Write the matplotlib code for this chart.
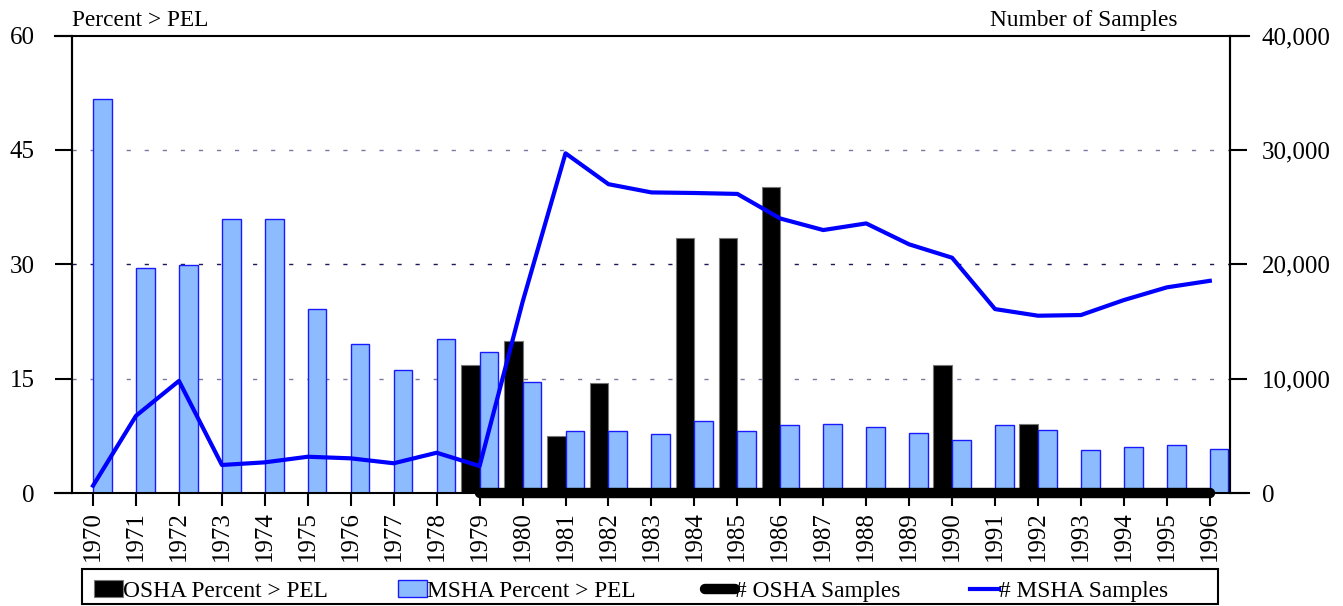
import matplotlib.pyplot as plt
import numpy as np
from matplotlib.ticker import FuncFormatter
from matplotlib.patches import Rectangle

plt.rcParams["font.family"] = ["Liberation Serif", "DejaVu Serif"]
plt.rcParams["font.size"] = 16.8

years = list(range(1970, 1997))
osha_pct = [np.nan] * 9 + [16.8, 20.0, 7.5, 14.4, 0, 33.4, 33.4, 40.1, 0, 0, 0,
                           16.8, 0, 9.1, 0, 0, 0, 0]
msha_pct = [51.7, 29.5, 29.9, 36.0, 35.9, 24.1, 19.5, 16.1, 20.2, 18.5, 14.6,
            8.1, 8.1, 7.8, 9.4, 8.1, 8.9, 9.0, 8.7, 7.9, 6.9, 8.9, 8.2, 5.7,
            6.0, 6.3, 5.8]
osha_n = [np.nan] * 9 + [20, 20, 20, 20, 20, 20, 20, 20, 20, 20,
                         20, 20, 20, 20, 20, 20, 20, 20]
msha_n = [640, 6750, 9800, 2450, 2680, 3170, 3030, 2600, 3520, 2360, 16700,
          29700, 27000, 26280, 26230, 26150, 24000, 22990, 23570, 21740,
          20570, 16080, 15500, 15560, 16870, 17980, 18550]

x = np.arange(len(years))
w = 0.435

fig = plt.figure(figsize=(13.43, 6.06), dpi=100)
ax = fig.add_axes([72 / 1343, 1 - 493 / 606, (1230 - 72) / 1343, (493 - 35.5) / 606])
ax2 = ax.twinx()

grid_colors = {15: "#7878a0", 30: "#1a1a5a", 45: "#7878a0"}
for yv, c in grid_colors.items():
    ax.axhline(yv, color=c, lw=1.0, ls=(0, (3, 10)), zorder=0)

b1 = ax.bar(x, osha_pct, -w, align="edge", color="black", edgecolor="#777777",
            lw=0.8, label="OSHA Percent > PEL", zorder=2)
b2 = ax.bar(x, msha_pct, w, align="edge", color="#8cbcff", edgecolor="#1a1aff",
            lw=1.0, label="MSHA Percent > PEL", zorder=2)

l1, = ax2.plot(x, osha_n, color="black", lw=7.5, solid_capstyle="round",
               label="# OSHA Samples", zorder=3, clip_on=False)
l2, = ax2.plot(x, msha_n, color="#0000ff", lw=3.0, label="# MSHA Samples", zorder=4)

ax.set_xlim(-0.49, 26.47)
ax.set_ylim(0, 60)
ax2.set_ylim(0, 40000)
ax.set_yticks([0, 15, 30, 45, 60])
ax2.set_yticks([0, 10000, 20000, 30000, 40000])
ax2.yaxis.set_major_formatter(FuncFormatter(lambda v, p: "{:,.0f}".format(v)))
ax.set_xticks(x)
ax.set_xticklabels([str(y) for y in years], rotation=90)

ax.set_zorder(ax2.get_zorder() - 1)
ax.patch.set_visible(True)
ax2.patch.set_visible(False)

for a in (ax, ax2):
    for s in a.spines.values():
        s.set_linewidth(1.5)
    a.spines["top"].set_visible(False)
    a.spines["bottom"].set_visible(False)
ax.tick_params(axis="y", direction="out", length=12, width=1.5, pad=15, labelsize=18)
ax2.tick_params(axis="y", direction="out", length=12, width=1.5, pad=11, labelsize=18)
ax.tick_params(axis="x", direction="out", length=9, width=1.5, pad=4, labelsize=18)

# top and bottom lines run past both axes, out to the tick ends
fig.add_artist(plt.Line2D([55 / 1343, 1249 / 1343], [1 - 35.5 / 606] * 2,
                          color="black", lw=1.5))
fig.add_artist(plt.Line2D([55 / 1343, 1249 / 1343], [1 - 493 / 606] * 2,
                          color="black", lw=1.5, zorder=0))

fig.text(72 / 1343, 1 - 26 / 606, "Percent > PEL", ha="left", va="baseline")
fig.text(1178 / 1343, 1 - 26 / 606, "Number of Samples", ha="right", va="baseline")

leg = fig.legend([b1, b2, l1, l2],
                 ["OSHA Percent > PEL", "MSHA Percent > PEL", "# OSHA Samples", "# MSHA Samples"],
                 loc="center left", bbox_to_anchor=(89 / 1343, 1 - 591 / 606),
                 ncol=4, frameon=False, columnspacing=3.0,
                 handlelength=1.25, handleheight=0.7, handletextpad=0.0,
                 borderpad=0.2, borderaxespad=0)
fig.add_artist(Rectangle((82 / 1343, 1 - 604 / 606), (1218 - 82) / 1343, 35 / 606,
                         transform=fig.transFigure, fill=False, ec="black", lw=1.5))

fig.savefig("out.png", dpi=100)
